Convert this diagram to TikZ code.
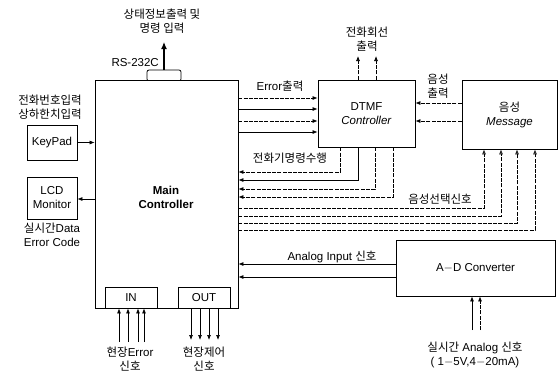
\documentclass[tikz,border=0pt]{standalone}
\usepackage{fontspec}
\setmainfont{Liberation Sans}
\newfontfamily\kr{Noto Sans CJK KR}
\usetikzlibrary{arrows.meta}
\begin{document}
\begin{tikzpicture}[x=1pt, y=-1pt, font=\fontsize{11.5}{14}\selectfont,
  box/.style={draw, line width=0.8pt, inner sep=0pt, align=center},
  sig/.style={line width=0.7pt, -{Latex[length=5pt,width=4pt]}},
  dsig/.style={sig, dash pattern=on 4pt off 1.2pt},
  osig/.style={line width=0.7pt, dash pattern=on 4pt off 1.2pt, -{Latex[open,length=5pt,width=4pt]}},
  lbl/.style={align=center, inner sep=0pt}]
  \useasboundingbox (0,0) rectangle (559,376);
  % blocks
  \node[box, rounded corners=2pt, minimum width=34pt, minimum height=11pt] (rs) at (164,75.5) {};
  \node[box, fill=white, minimum width=143pt, minimum height=228pt] (main) at (166.5,194) {};
  \node[lbl, font=\fontsize{11.5}{14}\selectfont\bfseries] (mainlbl) at (166,197) {Main\\Controller};
  \node[box, minimum width=50pt, minimum height=35pt] (keypad) at (52,142.5) {KeyPad};
  \node[box, minimum width=50pt, minimum height=42pt] (lcd) at (52,198) {LCD\\Monitor};
  \node[box, minimum width=52pt, minimum height=21pt] (in) at (131,297.5) {IN};
  \node[box, minimum width=52pt, minimum height=21pt] (out) at (204,297.5) {OUT};
  \node[box, minimum width=97pt, minimum height=67pt] (dtmf) at (366.5,113.5) {DTMF\\\textit{Controller}};
  \node[box, minimum width=95pt, minimum height=69pt] (msg) at (509.5,114.5) {{\kr 음성}\\\textit{Message}};
  \node[box, minimum width=159pt, minimum height=56pt] (adc) at (475.5,268) {A$-$D Converter};

  % free ends
  \coordinate (rsout) at (164,42);
  \coordinate (tel1) at (358,56);
  \coordinate (tel2) at (376,56);
  \coordinate (ana1) at (472,330);
  \coordinate (ana2) at (480,330);
  \coordinate (fin) at (0,342);
  \coordinate (fout) at (0,340);

  % RS-232C and phone line
  \draw[sig, -{Latex[length=7pt,width=6pt]}, line width=1.2pt] (rs.north) -- (rsout);
  \draw[dsig] (dtmf.north -| tel1) -- (tel1);
  \draw[dsig] (dtmf.north -| tel2) -- (tel2);

  % keypad, lcd
  \draw[sig] (keypad.east) -- (main.west |- keypad.east);
  \draw[sig] (main.west |- 0,199) -- (lcd.east |- 0,199);

  % main -> dtmf
  \draw[dsig] (main.east |- 0,98) -- (dtmf.west |- 0,98);
  \draw[sig] (main.east |- 0,109) -- (dtmf.west |- 0,109);
  \draw[dsig] (main.east |- 0,121) -- (dtmf.west |- 0,121);
  \draw[sig] (main.east |- 0,132) -- (dtmf.west |- 0,132);

  % message -> dtmf
  \draw[dsig] (msg.west |- 0,103) -- (dtmf.east |- 0,103);
  \draw[dsig] (msg.west |- 0,121) -- (dtmf.east |- 0,121);

  % dtmf -> main
  \draw[dsig] (dtmf.south -| 340,0) |- (main.east |- 0,172);
  \draw[sig] (dtmf.south -| 358,0) |- (main.east |- 0,180);
  \draw[dsig] (dtmf.south -| 375,0) |- (main.east |- 0,189);
  \draw[dsig] (dtmf.south -| 393,0) |- (main.east |- 0,197);

  % main -> message
  \draw[osig] (main.east |- 0,208) -| (msg.south -| 484,0);
  \draw[osig] (main.east |- 0,216) -| (msg.south -| 501,0);
  \draw[osig] (main.east |- 0,223) -| (msg.south -| 517,0);
  \draw[osig] (main.east |- 0,230) -| (msg.south -| 535,0);

  % adc
  \draw[sig] (adc.west |- 0,264) -- (main.east |- 0,264);
  \draw[sig] (adc.west |- 0,277) -- (main.east |- 0,277);
  \draw[sig] (ana1) -- (adc.south -| ana1);
  \draw[dsig] (ana2) -- (adc.south -| ana2);

  % field in/out
  \draw[sig] (fin -| 119,0) -- (in.south -| 119,0);
  \draw[sig] (fin -| 128,0) -- (in.south -| 128,0);
  \draw[sig] (fin -| 138,0) -- (in.south -| 138,0);
  \draw[sig] (fin -| 144,0) -- (in.south -| 144,0);
  \draw[sig] (out.south -| 191,0) -- (fout -| 191,0);
  \draw[sig] (out.south -| 200,0) -- (fout -| 200,0);
  \draw[sig] (out.south -| 209,0) -- (fout -| 209,0);
  \draw[sig] (out.south -| 218,0) -- (fout -| 218,0);

  % labels
  \node[lbl] (toplbl) at (162,21) {\kr 상태정보출력 및\\\kr 명령 입력};
  \node[lbl, anchor=east] (rslbl) at (159,63) {RS-232C};
  \node[lbl] (keylbl) at (50,107) {\kr 전화번호입력\\\kr 상하한치입력};
  \node[lbl] (lcdlbl) at (52,235) {{\kr 실시간}Data\\Error Code};
  \node[lbl] (errlbl) at (280,86) {Error{\kr 출력}};
  \node[lbl] (tellbl) at (367,39.5) {\kr 전화회선\\\kr 출력};
  \node[lbl] (voutlbl) at (438,86.5) {\kr 음성\\\kr 출력};
  \node[lbl] (cmdlbl) at (290,158) {\kr 전화기명령수행};
  \node[lbl] (sellbl) at (440,199) {\kr 음성선택신호};
  \node[lbl] (anlbl) at (332,257) {Analog Input {\kr 신호}};
  \node[lbl] (rtlbl) at (475,355) {{\kr 실시간} Analog {\kr 신호}\\( 1$-$5V,4$-$20mA)};
  \node[lbl] (inlbl) at (130,359.5) {{\kr 현장}Error\\\kr 신호};
  \node[lbl] (outlbl) at (204,359.5) {\kr 현장제어\\\kr 신호};
\end{tikzpicture}
\end{document}
